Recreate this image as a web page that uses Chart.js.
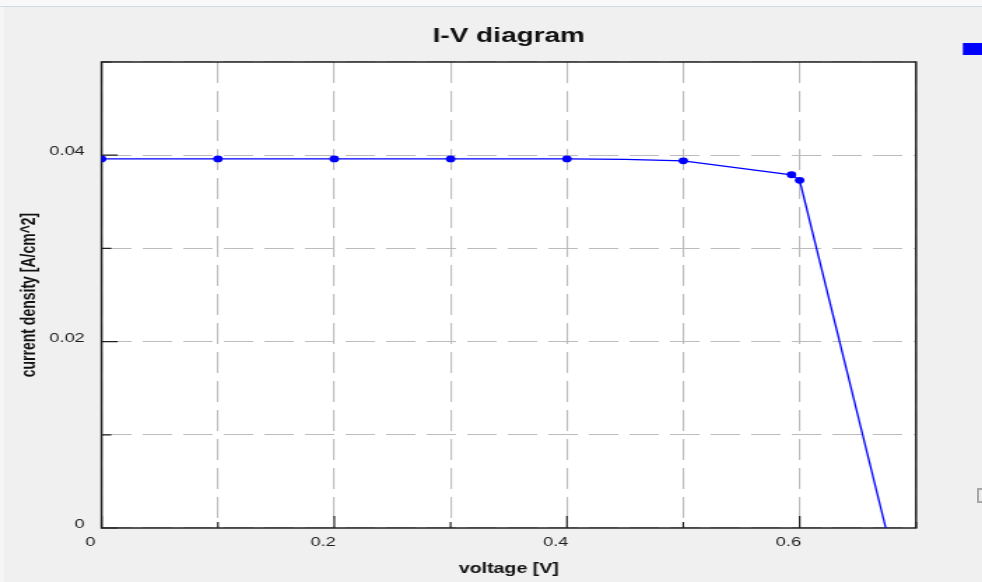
<!DOCTYPE html>
<html>
<head>
<meta charset="utf-8">
<title>I-V diagram</title>
<script src="https://cdn.jsdelivr.net/npm/chart.js@4"></script>
<style>
  html, body { margin: 0; padding: 0; width: 982px; height: 582px; overflow: hidden; background: #f0f0f0; }
  #topbar { position: absolute; left: 0; top: 0; width: 982px; height: 6px; background: #f8f8f8; border-bottom: 1px solid #d3dae3; }
  #leftbar { position: absolute; left: 0; top: 7px; width: 4px; height: 575px; background: #f6f6f6; }
  /* the plot is rendered on a narrower canvas and widened horizontally */
  #stage { position: absolute; left: 0; top: 0; width: 702px; height: 582px; transform: scaleX(1.3989); transform-origin: 0 0; }
  #toggle { position: absolute; left: 977px; top: 488px; width: 9px; height: 15px; border: 2px solid #a8a8a8; background: #ececec; box-sizing: border-box; }
</style>
</head>
<body>
<div id="topbar"></div>
<div id="leftbar"></div>
<div id="stage"><canvas id="iv"></canvas></div>
<div id="toggle"></div>
<script>
// Texts
const chartTitle = 'I-V diagram';
const xAxisTitle = 'voltage [V]';
const yAxisTitle = 'current density [A/cm^2]';

// Measured sweep: voltage [V] and current density [A/cm^2]
const voltage        = [0,      0.1,    0.2,    0.3,    0.4,    0.45,    0.5,    0.593,  0.6,    0.674];
const currentDensity = [0.0396, 0.0396, 0.0396, 0.0396, 0.0396, 0.03955, 0.0394, 0.0379, 0.0373, 0];
const hasMarker      = [true,   true,   true,   true,   true,   false,   true,   true,   true,   false];

// Labelled ticks (the remaining grid steps carry no label)
const xTickLabels = ['0', '0.2', '0.4', '0.6'];
const yTickLabels = ['0', '0.02', '0.04'];

const seriesColor = '#0000ff';

const ivFrame = {
  id: 'ivFrame',
  beforeDraw(chart) {
    const { ctx, chartArea: a } = chart;
    ctx.save();
    ctx.fillStyle = '#ffffff';
    ctx.fillRect(a.left, a.top, a.right - a.left, a.bottom - a.top);
    ctx.restore();
  },
  beforeDatasetsDraw(chart) {
    const { ctx, chartArea: a, scales: { x, y } } = chart;
    ctx.save();
    // inward tick marks, longer where a label sits
    ctx.strokeStyle = '#222';
    ctx.lineWidth = 1.2;
    ctx.beginPath();
    x.ticks.forEach(t => {
      const px = x.getPixelForValue(t.value);
      const len = t.label ? 12 : 6;
      ctx.moveTo(px, a.bottom);
      ctx.lineTo(px, a.bottom - len);
    });
    y.ticks.forEach(t => {
      const py = y.getPixelForValue(t.value);
      const len = t.label ? 11.5 : 7;
      ctx.moveTo(a.left, py);
      ctx.lineTo(a.left + len, py);
    });
    ctx.stroke();
    // plot frame
    ctx.lineWidth = 1.5;
    ctx.strokeRect(a.left, a.top, a.right - a.left, a.bottom - a.top);
    ctx.restore();
  },
  afterDraw(chart) {
    const { ctx, chartArea: a } = chart;
    ctx.save();
    ctx.fillStyle = '#111';
    ctx.font = 'bold 20px "Liberation Sans", Arial, sans-serif';
    ctx.textAlign = 'center';
    ctx.textBaseline = 'alphabetic';
    ctx.fillText(chartTitle, (a.left + a.right) / 2, 42);
    // legend swatch for the series
    ctx.fillStyle = chart.data.datasets[0].borderColor;
    ctx.fillRect(a.right + 33.5, 43, 20, 12);
    ctx.restore();
  }
};

new Chart(document.getElementById('iv'), {
  type: 'line',
  data: {
    datasets: [{
      label: 'current density',
      data: voltage.map((v, i) => ({ x: v, y: currentDensity[i] })),
      borderColor: seriesColor,
      backgroundColor: seriesColor,
      borderWidth: 1.3,
      tension: 0,
      fill: false,
      pointRadius: ctx => (hasMarker[ctx.dataIndex] ? 3.4 : 0),
      pointBorderWidth: 0,
      pointBackgroundColor: seriesColor
    }]
  },
  options: {
    responsive: true,
    maintainAspectRatio: false,
    animation: false,
    devicePixelRatio: 1,
    layout: { padding: { left: 0, right: 47.2, top: 62, bottom: 0 } },
    plugins: {
      legend: { display: false },
      title: { display: false },
      tooltip: { enabled: false }
    },
    scales: {
      x: {
        type: 'linear',
        min: 0,
        max: 0.7,
        afterFit(scale) { scale.height = 54; },
        border: { display: false, dash: [21, 8] },
        grid: { color: '#bcbcbc', lineWidth: 1.1, drawTicks: false },
        ticks: {
          stepSize: 0.1,
          autoSkip: false,
          maxRotation: 0,
          padding: 7,
          labelOffset: -8,
          color: '#1c1c1c',
          font: { family: '"Liberation Sans", Arial, sans-serif', size: 13 },
          callback: v => {
            const s = String(Math.round(v * 10) / 10);
            return xTickLabels.includes(s) ? s : '';
          }
        },
        title: {
          display: true,
          text: xAxisTitle,
          color: '#111',
          padding: { top: 0, bottom: 4 },
          font: { family: '"Liberation Sans", Arial, sans-serif', size: 14, weight: 'bold' }
        }
      },
      y: {
        type: 'linear',
        min: 0,
        max: 0.05,
        afterFit(scale) { scale.width = 72.6; },
        border: { display: false, dash: [21, 8] },
        grid: { color: '#bcbcbc', lineWidth: 1.1, drawTicks: false },
        ticks: {
          stepSize: 0.01,
          autoSkip: false,
          padding: 12,
          labelOffset: -3.5,
          color: '#1c1c1c',
          font: { family: '"Liberation Sans", Arial, sans-serif', size: 13 },
          callback: v => {
            const s = String(Math.round(v * 100) / 100);
            return yTickLabels.includes(s) ? s : '';
          }
        },
        title: {
          display: true,
          text: yAxisTitle,
          color: '#111',
          padding: { top: 12.7, bottom: 0 },
          font: { family: '"Liberation Sans", Arial, sans-serif', size: 14, weight: 'bold' }
        }
      }
    }
  },
  plugins: [ivFrame]
});
</script>
</body>
</html>
